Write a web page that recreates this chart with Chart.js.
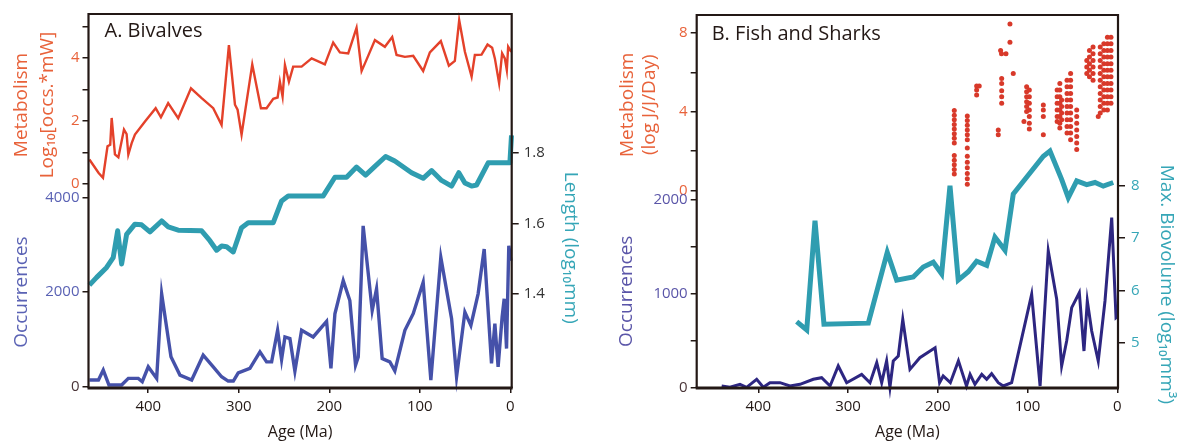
<!DOCTYPE html>
<html><head><meta charset="utf-8">
<script src="https://cdn.jsdelivr.net/npm/chart.js@4.4.0/dist/chart.umd.min.js"></script>
<style>
html,body{margin:0;padding:0;background:#fff;}
#wrap{position:relative;width:1180px;height:445px;overflow:hidden;}
.panel{position:absolute;top:0;width:590px;height:445px;}
#pa{left:0}#pb{left:590px}
</style></head><body>
<div id="wrap"><div class="panel" id="pa"><canvas id="ca" width="590" height="445"></canvas></div><div class="panel" id="pb"><canvas id="cb" width="590" height="445"></canvas></div></div>
<script>
// ---------- Panel A: Bivalves ----------
const ageA_metab = [465,455,450,445,442,440.4,436.8,433,426.8,423.9,422,418.3,414.7,403.6,391.8,386,378,366.9,352.8,341,328.2,319,310.9,304.2,301.3,296.9,285.1,275.5,269.3,261.9,257.1,254.6,251.6,249,244.6,239.9,230.6,219.5,204.9,195.7,188.3,179.1,169.9,164.3,159.9,149.6,138.6,130.5,125.7,116.5,107.3,96.3,88.9,76.8,67.9,61.3,56.5,50.2,42.8,39.2,31.8,25.2,20.1,17.1,12.4,9.1,6.1,3.9,2.4,-1];
const metabA = [0.78,0.36,0.2,1.2,1.25,2.1,0.94,0.85,1.73,1.59,0.94,1.3,1.57,1.99,2.41,2.12,2.57,2.09,3.04,2.73,2.41,1.88,4.41,2.52,2.36,1.57,3.8,2.41,2.41,2.71,2.75,3.25,2.78,3.78,3.25,3.73,3.73,3.99,3.8,4.49,4.18,4.15,4.96,3.59,3.88,4.57,4.36,4.67,4.1,4.04,4.07,3.59,4.18,4.54,3.76,3.91,5.2,4.2,3.41,4.1,4.11,4.43,4.33,3.99,3.2,4.15,3.99,3.62,4.36,4.2];

const ageA_len = [465,457,446,438.7,433.8,429.4,423.9,414.7,407.3,398.1,385.2,377.9,366.9,341,331.9,324.5,318.9,313.4,306.1,296.9,289.6,261.9,252.7,245.4,206.7,193.8,180.9,169.9,159.9,149.6,137.8,127.6,109.1,96.3,87,76,64.9,56.9,50.2,42.8,37.3,24.5,0.5,-1.3];
const lenA = [1.425,1.447,1.475,1.503,1.579,1.485,1.569,1.598,1.596,1.576,1.607,1.59,1.581,1.579,1.551,1.524,1.536,1.534,1.519,1.588,1.602,1.602,1.664,1.678,1.678,1.731,1.731,1.76,1.737,1.762,1.79,1.777,1.744,1.728,1.75,1.722,1.706,1.744,1.715,1.706,1.709,1.772,1.772,1.85];

const ageA_occ = [465,455,449.7,443.4,429.4,422,411,406.6,400,390.7,385.2,374.9,365,352,339.3,328.2,319,311.7,306,300.6,287.7,276.6,269.3,263.7,257.1,252.7,249,243.5,238,230.6,217.8,203,198.2,193.8,184.6,177.3,171,168,162.6,152.6,147.8,141.6,133.1,127.6,116.5,107.3,96.3,87.8,76.8,64.9,59.4,50.2,43.6,35.6,28.9,20.8,17.1,13.5,9.1,6.8,4.2,1.7,-0.6];
const occA = [141,141,352,36,36,176,176,106,421,176,1966,632,246,141,667,421,211,120,120,295,387,737,526,526,1194,577,1053,1018,330,1194,1053,1383,387,1545,2246,1825,457,632,3404,1615,2071,597,526,337,1194,1545,2211,141,2737,1440,211,1579,1299,1966,2914,493,1335,421,1474,1861,808,2983,2667];

const xTicks = [400,300,200,100,0];
const metabA_ticks = [0,1,2,3,4,5];
const metabA_labels = [0,2,4];
const occA_ticks = [0,2000,4000];
const lenA_ticks = [1.4,1.6,1.8];

// ---------- Panel B: Fish and Sharks ----------
const ageB_bio = [357.2,346,336.8,326.8,277.4,256.3,245.8,227.3,216.2,205,195.7,186.4,177.2,166,156.7,145.5,136.3,125.1,115.9,82.4,75,62,54.6,45.2,34.1,24.8,15.6,4.5];
const bioB = [5.41,5.25,7.33,5.36,5.38,6.73,6.2,6.26,6.45,6.54,6.32,8.0,6.2,6.36,6.56,6.48,7.02,6.77,7.84,8.56,8.66,8.12,7.77,8.09,8.02,8.06,7.99,8.06];

const ageB_occ = [440.8,431.5,420.4,413,401.8,394.4,387,375.8,364.7,353.5,338.7,329.4,320,310.9,301.5,284.8,275.5,268,262.5,257,253.3,249.6,244,239,231,220,203,198,194,186,177,168,164,158.6,151,145.5,140,132.6,127,117.7,95.4,86,76.9,67.5,62,56.4,50.8,42.3,37.1,33.4,28.5,21.2,13.7,6.2,1.4,-0.8];
const occB = [14,0,32,0,85,0,49,49,14,32,85,102,14,227,49,138,49,262,49,280,0,280,333,723,191,315,421,49,120,49,281,14,138,32,138,85,145,49,14,49,989,14,1450,936,226,493,847,1006,386,918,599,280,918,1804,740,758];

const ageB_dots = [
 181.6,181.6,181.6,181.6,181.6,181.6,181.6,181.6,181.6,181.6,181.6,181.6,181.6,
 167.1,167.1,167.1,167.1,167.1,167.1,167.1,167.1,167.1,167.1,167.1,167.1,167.1,
 156.7,156.7,156.7,153.8,
 132.6,132.6,128.8,128.8,128.8,128.8,128.8,130,129,124,119.6,119.6,115.9,
 104,101,101,101,101,101,101,98,98,98,98,98,98,98,
 82.4,82.4,82.4,82.4,
 67,67,67,67,67,67,64,64,64,64,64,64,64,64,62,62,62,62,
 56,56,56,56,56,56,56,56,56,52,52,52,52,52,52,52,52,52,52,52,
 45.2,45.2,45.2,45.2,45.2,45.2,45.2,
 34,34,34,31,31,31,31,31,27,27,27,27,27,27,
 21.2,
 19,19,19,19,19,19,19,19,19,19,19,
 15,15,15,15,15,15,15,15,15,15,15,
 11,11,11,11,11,11,11,11,11,11,11,11,
 7,7,7,7,7,7,7,7,7,7,7];
const metabB_dots = [
 4.06,3.82,3.59,3.35,3.12,2.88,2.65,2.42,1.78,1.54,1.31,1.07,0.84,
 3.79,3.56,3.32,3.08,2.83,2.58,2.16,1.74,1.44,1.16,0.87,0.6,0.32,
 5.3,5.1,4.85,5.3,
 3.08,2.83,5.69,5.43,5.07,4.76,4.43,7.11,6.94,6.94,8.45,7.53,5.94,
 3.5,5.27,5.02,4.76,4.51,4.26,4.01,5.1,4.76,4.43,4.09,3.76,3.42,3.12,
 4.34,4.09,3.76,2.83,
 5.1,4.76,4.43,4.09,3.76,3.51,5.43,5.1,4.76,4.43,4.09,3.76,3.42,3.17,4.6,4.26,3.93,3.59,
 5.6,5.27,4.93,4.6,4.26,3.93,3.59,3.25,2.92,5.94,5.6,5.27,4.93,4.6,4.26,3.93,3.59,3.25,2.92,2.58,
 4.09,3.76,3.42,3.08,2.75,2.42,2.08,
 6.6,6.27,5.94,7.11,6.77,6.44,6.1,5.77,7.28,6.94,6.6,6.27,5.94,5.6,
 3.76,
 7.28,6.94,6.6,6.27,5.94,5.6,5.27,4.93,4.6,4.26,3.93,
 7.45,7.11,6.77,6.44,6.1,5.77,5.43,5.1,4.76,4.43,4.09,
 7.78,7.45,7.11,6.77,6.44,6.1,5.77,5.43,5.1,4.76,4.43,4.09,
 7.78,7.45,7.11,6.77,6.44,6.1,5.77,5.43,5.1,4.76,4.43];

const metabB_ticks = [0,2,4,6,8];
const metabB_labels = [0,4,8];
const occB_ticks = [0,500,1000,1500,2000];
const occB_labels = [0,1000,2000];
const bioB_ticks = [5,6,7,8];

// ---------- helpers ----------
const FONT = '"Open Sans", "Noto Sans", sans-serif';
Chart.defaults.font.family = FONT;
const INK = '#231815';
const RED_LINE = '#e4412a', RED_TXT = '#e8623a';
const TEAL_LINE = '#2f9db0', TEAL_TXT = '#36a6b7';
const BLUE_A = '#4551a9', BLUE_A_TXT = '#5a62b4';
const BLUE_B = '#2d2681', BLUE_B_TXT = '#5a55a8';
const ZERO_TXT = '#4a3538';

const pts = (xs, ys) => xs.map((x, i) => ({x: x, y: ys[i]}));
const setTicks = arr => s => { s.ticks = arr.map(v => ({value: v})); };
const labelIn = arr => v => arr.includes(v) ? String(v) : '';
const fixW = w => s => { s.width = w; };

const framePlugin = {
  id: 'frame',
  afterDraw(chart, args, opts) {
    const {ctx, chartArea: a} = chart;
    ctx.save();
    ctx.strokeStyle = INK;
    ctx.lineWidth = 2.2;
    ctx.beginPath();
    ctx.moveTo(a.left, a.bottom); ctx.lineTo(a.left, a.top); ctx.lineTo(a.right, a.top); ctx.lineTo(a.right, a.bottom);
    ctx.stroke();
    ctx.lineWidth = 3;
    ctx.beginPath(); ctx.moveTo(a.left - 1, a.bottom); ctx.lineTo(a.right + 1, a.bottom); ctx.stroke();
    ctx.fillStyle = INK;
    ctx.font = '20px ' + FONT;
    ctx.textBaseline = 'middle';
    ctx.textAlign = 'left';
    ctx.fillText(opts.text, a.left + opts.dx, a.top + opts.dy);
    ctx.restore();
  }
};

function xScale(min, max) {
  return {
    type: 'linear', position: 'bottom', reverse: true, min: min, max: max,
    afterBuildTicks: setTicks(xTicks),
    afterFit: s => { s.height = 57; },
    ticks: {color: INK, font: {size: 15}, padding: 5, autoSkip: false, maxRotation: 0, callback: v => String(v)},
    grid: {drawOnChartArea: false, drawTicks: true, tickLength: 5, color: INK, lineWidth: 1.5},
    border: {display: false},
    title: {display: true, text: 'Age (Ma)', color: INK, font: {size: 16}, padding: {top: 0, bottom: 3}}
  };
}
function yAxis(o) {
  return Object.assign({
    type: 'linear',
    grid: {drawOnChartArea: false, drawTicks: true, tickLength: 6, color: INK, lineWidth: 1.5},
    border: {display: false}
  }, o);
}

// ---------- Chart A ----------
new Chart(document.getElementById('ca'), {
  type: 'line',
  data: {datasets: [
    {data: pts(ageA_metab, metabA), yAxisID: 'yMetab', borderColor: RED_LINE, borderWidth: 2.4, pointRadius: 0, tension: 0, clip: false},
    {data: pts(ageA_len, lenA), yAxisID: 'yLen', borderColor: TEAL_LINE, borderWidth: 5, pointRadius: 0, tension: 0, borderJoinStyle: 'round', clip: false},
    {data: pts(ageA_occ, occA), yAxisID: 'yOcc', borderColor: BLUE_A, borderWidth: 3.4, pointRadius: 0, tension: 0, clip: false}
  ]},
  options: {
    responsive: false, animation: false, devicePixelRatio: 1,
    layout: {padding: {top: 12, left: 0, right: 0, bottom: 0}},
    plugins: {legend: {display: false}, tooltip: {enabled: false}, frame: {text: 'A. Bivalves', dx: 16, dy: 17}},
    scales: {
      x: xScale(-1.5, 466),
      yMetab: yAxis({position: 'left', stack: 'L', stackWeight: 183, weight: 2, min: -0.379, max: 5.4,
        afterBuildTicks: setTicks(metabA_ticks), afterFit: fixW(88.5),
        ticks: {color: RED_TXT, font: {size: 15}, padding: 3, autoSkip: false, callback: labelIn(metabA_labels)},
        title: {display: true, text: ['Metabolism', 'Log\u2081\u2080[occs.*mW]'], color: RED_TXT, font: {size: 19, lineHeight: 1.4}, padding: {top: 8, bottom: 0}}}),
      yOcc: yAxis({position: 'left', stack: 'L', stackWeight: 193, weight: 1, min: -27, max: 4036,
        afterBuildTicks: setTicks(occA_ticks), afterFit: fixW(88.5),
        ticks: {color: c => c.tick && c.tick.value === 0 ? ZERO_TXT : BLUE_A_TXT, font: {size: 15}, padding: 3, autoSkip: false, callback: v => String(v)},
        title: {display: true, text: 'Occurrences', color: BLUE_A_TXT, font: {size: 19}, padding: {top: 10, bottom: 0}}}),
      yPadA: yAxis({position: 'right', stack: 'R', stackWeight: 94, weight: 1, min: 0, max: 1,
        afterFit: fixW(78.3), ticks: {display: false}, grid: {display: false}, title: {display: false}}),
      yLen: yAxis({position: 'right', stack: 'R', stackWeight: 282, weight: 2, min: 1.133, max: 1.929,
        afterBuildTicks: setTicks(lenA_ticks), afterFit: fixW(78.3),
        grid: {drawOnChartArea: false, drawTicks: true, tickLength: 7, color: INK, lineWidth: 1.5},
        ticks: {color: '#333333', font: {size: 15}, padding: 5, autoSkip: false, callback: v => v.toFixed(1)},
        title: {display: true, text: 'Length (log\u2081\u2080mm)', color: TEAL_TXT, font: {size: 19}, padding: {top: 8, bottom: 0}}})
    }
  },
  plugins: [framePlugin]
});

// ---------- Chart B ----------
new Chart(document.getElementById('cb'), {
  type: 'line',
  data: {datasets: [
    {data: pts(ageB_dots, metabB_dots), yAxisID: 'yMetab', showLine: false, pointRadius: 2.5, pointBorderWidth: 0, pointBackgroundColor: '#d8392a', borderColor: '#d8392a', clip: false},
    {data: pts(ageB_bio, bioB), yAxisID: 'yBio', borderColor: TEAL_LINE, borderWidth: 5, pointRadius: 0, tension: 0, clip: false},
    {data: pts(ageB_occ, occB), yAxisID: 'yOcc', borderColor: BLUE_B, borderWidth: 3, pointRadius: 0, tension: 0, clip: false}
  ]},
  options: {
    responsive: false, animation: false, devicePixelRatio: 1,
    layout: {padding: {top: 11, left: 0, right: 0, bottom: 0}},
    plugins: {legend: {display: false}, tooltip: {enabled: false}, frame: {text: 'B. Fish and Sharks', dx: 15, dy: 19}},
    scales: {
      x: xScale(-0.8, 468.6),
      yMetab: yAxis({position: 'left', stack: 'L', stackWeight: 181, weight: 2, min: -0.2, max: 8.906,
        afterBuildTicks: setTicks(metabB_ticks), afterFit: fixW(106.7),
        ticks: {color: RED_TXT, font: {size: 15}, padding: 3, autoSkip: false, callback: labelIn(metabB_labels)},
        title: {display: true, text: ['Metabolism', '(log J/J/Day)'], color: RED_TXT, font: {size: 19, lineHeight: 1.15}, padding: {top: 27, bottom: 0}}}),
      yOcc: yAxis({position: 'left', stack: 'L', stackWeight: 195, weight: 1, min: -7.4, max: 2050,
        afterBuildTicks: setTicks(occB_ticks), afterFit: fixW(106.7),
        ticks: {color: c => c.tick && c.tick.value === 0 ? ZERO_TXT : BLUE_B_TXT, font: {size: 15}, padding: 3, autoSkip: false, callback: labelIn(occB_labels)},
        title: {display: true, text: 'Occurrences', color: BLUE_B_TXT, font: {size: 19}, padding: {top: 25, bottom: 0}}}),
      yPadB: yAxis({position: 'right', stack: 'R', stackWeight: 167, weight: 1, min: 0, max: 1,
        afterFit: fixW(62), ticks: {display: false}, grid: {display: false}, title: {display: false}}),
      yBio: yAxis({position: 'right', stack: 'R', stackWeight: 209, weight: 2, min: 4.144, max: 8.095,
        afterBuildTicks: setTicks(bioB_ticks), afterFit: fixW(62),
        grid: {drawOnChartArea: false, drawTicks: true, tickLength: 7, color: INK, lineWidth: 1.5},
        ticks: {color: TEAL_TXT, font: {size: 15}, padding: 6, autoSkip: false, callback: v => String(v)},
        title: {display: true, text: 'Max. Biovolume (log\u2081\u2080mm\u00b3)', color: TEAL_TXT, font: {size: 19}, padding: {top: 2, bottom: 0}}})
    }
  },
  plugins: [framePlugin]
});
</script>
</body></html>
